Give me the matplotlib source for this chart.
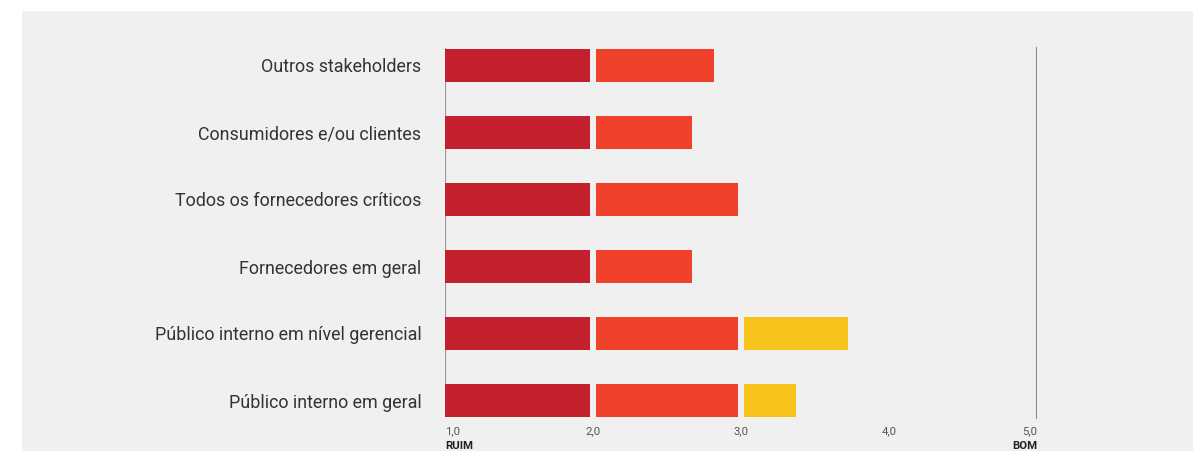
import matplotlib.pyplot as plt
from matplotlib.patches import Rectangle

# data
categorias = ['Outros stakeholders', 'Consumidores e/ou clientes',
              'Todos os fornecedores críticos', 'Fornecedores em geral',
              'Público interno em nível gerencial', 'Público interno em geral']
valores = [2.82, 2.67, 2.98, 2.67, 3.72, 3.37]
faixas = [(1.0, 2.0), (2.0, 3.0), (3.0, 5.0)]
cores = ['#c4202e', '#f0412b', '#f7c31a']
xticks = [1.0, 2.0, 3.0, 4.0, 5.0]
xticklabels = ['1,0', '2,0', '3,0', '4,0', '5,0']

W, H = 1193, 451
bg = '#f0f0f0'
fig = plt.figure(figsize=(W / 100, H / 100), dpi=100)
fig.patch.set_facecolor('white')
fig.patches.append(Rectangle((22 / W, 0), 1 - 22 / W, 1 - 11 / H,
                             transform=fig.transFigure, facecolor=bg,
                             edgecolor='none', zorder=-10))

# axes: x 1.0 -> 445px, 5.0 -> 1037px ; rows 67px apart
top, bottom = 32, 434
ax = fig.add_axes([445 / W, 1 - bottom / H, (1037 - 445) / W, (bottom - top) / H])
ax.set_facecolor('none')

gap = 0.036
altura = 0.49
for i, v in enumerate(valores):
    for (lo, hi), c in zip(faixas, cores):
        if v <= lo:
            continue
        a = lo + (gap / 2 if lo > 1 else 0)
        b = min(v, hi)
        if v > hi:
            b = hi - gap / 2
        ax.barh(i, b - a, left=a, height=altura, color=c, edgecolor='none')

ax.set_xlim(1, 5)
ax.set_ylim(len(categorias) - 0.5, -0.5)
ax.vlines([1.0], -0.26, 5.25, color='#9a9a9a', lw=1.6, zorder=0)
ax.vlines([5.0], -0.28, 5.28, color='#888888', lw=1.5, zorder=0)

for s in ax.spines.values():
    s.set_visible(False)
ax.set_xticks([])
ax.set_yticks(range(len(categorias)))
ax.set_yticklabels(categorias, fontsize=12.9, color='#333333', family='Roboto')
ax.tick_params(axis='y', length=0, pad=17)

h_ax = bottom - top
for x, lab in zip(xticks, xticklabels):
    ha = 'left' if x == xticks[0] else ('right' if x == xticks[-1] else 'center')
    ax.text(x, (bottom - 431) / h_ax, lab, transform=ax.get_xaxis_transform(),
            ha=ha, va='center', fontsize=8.2, color='#555555', family='Roboto')
ax.text(1.0, (bottom - 446) / h_ax, 'RUIM', transform=ax.get_xaxis_transform(),
        ha='left', va='center', fontsize=8.2, fontweight='bold', color='#222222', family='Roboto')
ax.text(5.0, (bottom - 446) / h_ax, 'BOM', transform=ax.get_xaxis_transform(),
        ha='right', va='center', fontsize=8.2, fontweight='bold', color='#222222', family='Roboto')

fig.savefig('out.png', dpi=100, facecolor=fig.get_facecolor())
